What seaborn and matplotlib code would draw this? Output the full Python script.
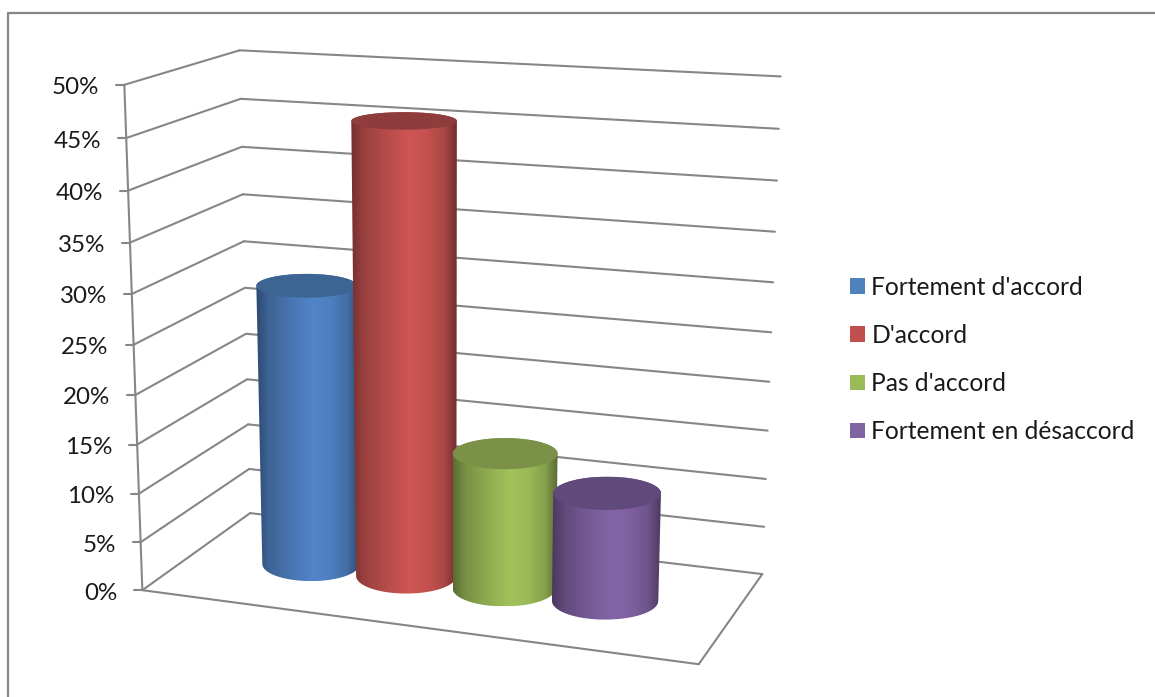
import numpy as np
import pandas as pd
import matplotlib
matplotlib.use("Agg")
import matplotlib.pyplot as plt
from matplotlib.colors import LinearSegmentedColormap, to_rgb
from matplotlib.patches import Patch, Polygon
from matplotlib.transforms import Affine2D
import seaborn as sns

# ---- data ----
categories = ["Fortement d'accord", "D'accord", "Pas d'accord", "Fortement en désaccord"]
values = [29.0, 45.9, 13.9, 11.0]
ticks = [0, 5, 10, 15, 20, 25, 30, 35, 40, 45, 50]
palette = ["#5285c9", "#cf5654", "#a2c35c", "#8565a9"]
caps = ["#3c6594", "#8f3d3c", "#7a9147", "#604a7b"]
legend_colors = ["#4f81bd", "#c0504d", "#9bbb59", "#8064a2"]

W, H = 1155, 697
GRID = "#868686"
AXIS_MAX = 50.0
FONT = 17.4

sns.set_theme(style="white")
plt.rcParams["font.family"] = ["Lato", "DejaVu Sans"]
fig = plt.figure(figsize=(W / 100, H / 100), dpi=100, facecolor="white")
ax = fig.add_axes([0, 0, 1, 1])

# ---- perspective camera calibrated on the box corners of the 3-D chart ----
# (u along categories, d depth, v value fraction) -> screen position
calib_world = np.array([
    [0, 0, 0], [1, 0, 0], [0, 1, 0], [1, 1, 0],
    [0, 0, 1], [0, 1, 1], [1, 1, 1],
    [0, 0, .5], [1, 1, .5], [0, 1, .5],
], float)
calib_screen = np.array([
    [142, 590], [699, 664], [250, 513], [762, 574],
    [124, 85], [240, 50], [780, 76],
    [134, 345], [772, 333], [245, 288],
], float)


def fit_camera(world, screen):
    rows = []
    for (a, b, c), (x, y) in zip(world, screen):
        rows.append([a, b, c, 1, 0, 0, 0, 0, -x * a, -x * b, -x * c, -x])
        rows.append([0, 0, 0, 0, a, b, c, 1, -y * a, -y * b, -y * c, -y])
    return np.linalg.svd(np.array(rows))[2][-1].reshape(3, 4)


CAM = fit_camera(calib_world, calib_screen)


def proj(u, d, value):
    p = CAM @ np.array([u, d, value / AXIS_MAX, 1.0])
    return p[:2] / p[2]


# ---- walls and floor ----
def seg(a, b, **kw):
    ax.plot([a[0], b[0]], [a[1], b[1]], color=GRID, lw=1.5, zorder=1,
            solid_capstyle="round", **kw)


for t in ticks:
    front, back, right = proj(0, 0, t), proj(0, 1, t), proj(1, 1, t)
    seg(front, back)
    seg(back, right)
    seg(front, front - np.array([8, 0]))
    ax.text(front[0] - 25, front[1] + 1, f"{t}%", ha="right", va="center_baseline",
            fontsize=FONT, color="#1a1a1a")
seg(proj(0, 0, 0), proj(0, 0, 50))
seg(proj(0, 0, 0), proj(1, 0, 0))
seg(proj(1, 0, 0), proj(1, 1, 0))

# ---- cylinders: seaborn bars mapped through the camera, then shaded ----
df = pd.DataFrame({"cat": categories, "val": values})
sns.barplot(data=df, x="cat", y="val", hue="cat", palette=palette, width=1.0,
            dodge=False, legend=False, ax=ax, zorder=2)

STEP, RU, RD, DEPTH = 0.184, 0.0955, 0.215, 0.5
shade_x = [0, .04, .12, .3, .55, .72, .88, .96, 1]
shade_k = [.55, .62, .74, .86, 1.0, .95, .82, .64, .55]
tt = np.linspace(0, np.pi, 40)


def half_ellipse(c, a, b, sign):
    return np.column_stack([c[0] + a * np.cos(tt), c[1] + sign * b * np.sin(tt)])


for i, (patch, val) in enumerate(zip(ax.patches, values)):
    u = 0.5 + (i - 1.5) * STEP
    base, top = proj(u, DEPTH, 0), proj(u, DEPTH, val)
    a0 = abs(proj(u + RU, DEPTH, 0)[0] - proj(u - RU, DEPTH, 0)[0]) / 2
    a1 = abs(proj(u + RU, DEPTH, val)[0] - proj(u - RU, DEPTH, val)[0]) / 2
    b0 = abs(proj(u, DEPTH + RD, 0)[1] - proj(u, DEPTH - RD, 0)[1]) / 2
    b1 = abs(proj(u, DEPTH + RD, val)[1] - proj(u, DEPTH - RD, val)[1]) / 2

    z = 2 + i * 2
    # flat seaborn bar sits inside the body
    patch.set_transform(Affine2D().translate(-i, 0).scale(1.6 * min(a0, a1), (top[1] - base[1]) / val)
                        .translate((base[0] + top[0]) / 2, base[1]) + ax.transData)
    patch.set_zorder(z)
    patch.set_linewidth(0)

    # body outline: lower half of the bottom ellipse + upper half of the top ellipse
    lower = half_ellipse(base, a0, b0, 1)[::-1]          # left -> right along the bottom
    upper = half_ellipse(top, a1, b1, -1)                # right -> left along the top
    outline = np.vstack([lower, upper])
    body = Polygon(outline, closed=True, transform=ax.transData, facecolor="none", edgecolor="none")
    ax.add_patch(body)

    rgb = np.array(to_rgb(palette[i]))
    cmap = LinearSegmentedColormap.from_list(
        f"c{i}", [(x, tuple(rgb * k)) for x, k in zip(shade_x, shade_k)])
    x0, x1 = outline[:, 0].min(), outline[:, 0].max()
    y0, y1 = outline[:, 1].min(), outline[:, 1].max()
    im = ax.imshow(np.linspace(0, 1, 256)[None, :], cmap=cmap, extent=(x0, x1, y1, y0),
                   aspect="auto", zorder=z, interpolation="bilinear")
    im.set_clip_path(body)

    # top cap
    cap = np.vstack([half_ellipse(top, a1, b1, 1), half_ellipse(top, a1, b1, -1)[::-1]])
    ax.add_patch(Polygon(cap, closed=True, facecolor=caps[i], edgecolor="none", zorder=z + 0.5))

# ---- frame of the chart area (only top and left are in the crop) ----
ax.plot([7.5, 7.5, W], [H, 13, 13], color=GRID, lw=1.6, zorder=1)

ax.set_xlim(0, W)
ax.set_ylim(H, 0)
ax.axis("off")

# ---- legend ----
handles = [Patch(facecolor=c, edgecolor="none", label=n) for c, n in zip(legend_colors, categories)]
ax.legend(handles=handles, loc="upper left", bbox_to_anchor=(845 / W, 1 - 271 / H), frameon=False,
          prop={"family": ["Lato", "DejaVu Sans"], "size": 17.7}, labelcolor="#1a1a1a",
          handlelength=0.61, handleheight=0.61, handletextpad=0.26, labelspacing=1.02,
          borderpad=0.2, borderaxespad=0)

fig.savefig("out.png", dpi=100, facecolor="white")
